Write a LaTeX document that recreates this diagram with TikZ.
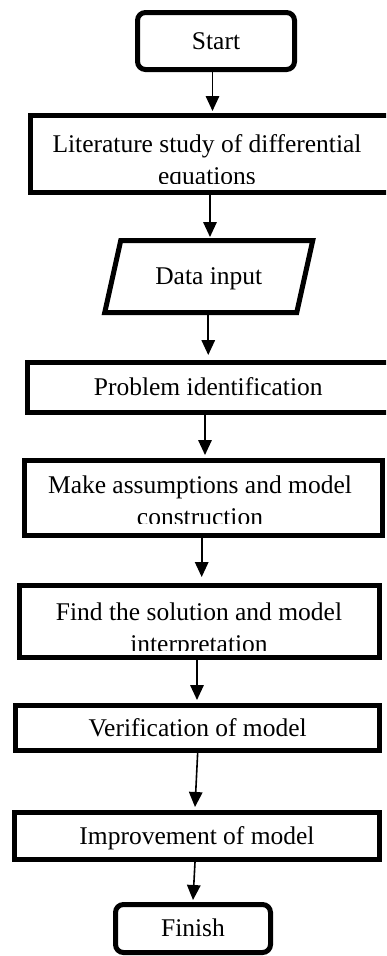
\documentclass[tikz,border=0pt]{standalone}
\usepackage{fontspec}
\setmainfont{Liberation Serif}
\usetikzlibrary{arrows.meta}

\begin{document}
\begin{tikzpicture}[x=1pt,y=-1pt,font=\fontsize{25.5}{32}\selectfont]
   \tikzset{box/.style 2 args={draw, line width=5pt, minimum width=#1, minimum height=#2, inner sep=0pt, text height=16pt, text depth=0pt},
            term/.style 2 args={box={#1}{#2}, rounded corners=8pt},
            lines/.style={text width=340pt, align=flush center, anchor=base, inner sep=0pt},
            arr/.style={line width=1.6pt, -{Triangle[length=15pt,width=13.5pt]}}};

\useasboundingbox (0,0) rectangle (386,956);
\clip (0,0) rectangle (386,956);

\node[term={157pt}{57pt}] (start) at (216,41) {Start};
\node[box={358.5pt}{77pt}] (lit) at (209.75,154) {};
\node[minimum width=192pt, minimum height=72pt, inner sep=0pt, outer sep=0pt, text height=16pt, text depth=0pt] (data) at (208.75,276.5) {Data input};
\draw[line width=5pt] ([xshift=8pt]data.north west) -- ([xshift=8pt]data.north east) -- ([xshift=-8pt]data.south east) -- ([xshift=-8pt]data.south west) -- cycle;
\node[box={361.5pt}{50pt}] (prob) at (208.25,387.5) {Problem identification};
\node[box={358.5pt}{75pt}] (make) at (203.25,498) {};
\node[box={360.5pt}{72pt}] (find) at (199.25,621.5) {};
\node[box={363.7pt}{45pt}] (verif) at (197.65,728) {Verification of model};
\node[box={365pt}{47pt}] (improv) at (197,836) {Improvement of model};
\node[term={155pt}{48pt}] (finish) at (193,928.5) {Finish};

% two-line texts, cut off at the bottom as in the boxes
\begin{scope}
  \clip (30,110) rectangle (390,183);
  \node[lines] (littext) at (207,152) {Literature study of differential\\equations};
\end{scope}
\begin{scope}
  \clip (20,455) rectangle (385,523);
  \node[lines] (maketext) at (200,493) {Make assumptions and model\\construction};
\end{scope}
\begin{scope}
  \clip (15,580) rectangle (382,650);
  \node[lines] (findtext) at (199,620) {Find the solution and model\\interpretation};
\end{scope}

\draw[arr] ([xshift=-3.5pt]start.south) -- ([xshift=2.75pt,yshift=2pt]lit.north);
\draw[arr] ([xshift=0.25pt]lit.south) -- ([xshift=1.25pt,yshift=3.5pt]data.north);
\draw[arr] ([xshift=-0.5pt,yshift=-2.5pt]data.south) -- ([yshift=5pt]prob.north);
\draw[arr] ([xshift=-3.25pt]prob.south) -- ([xshift=1.75pt,yshift=3pt]make.north);
\draw[arr] ([xshift=-1.55pt]make.south) -- ([xshift=2.45pt,yshift=6pt]find.north);
\draw[arr] ([xshift=-2.25pt]find.south) -- ([xshift=-0.65pt,yshift=3pt]verif.north);
\draw[arr] (verif.south) -- ([xshift=-2pt,yshift=3pt]improv.north);
\draw[arr] ([xshift=-2pt]improv.south) -- ([yshift=2pt]finish.north);

\end{tikzpicture}
\end{document}
